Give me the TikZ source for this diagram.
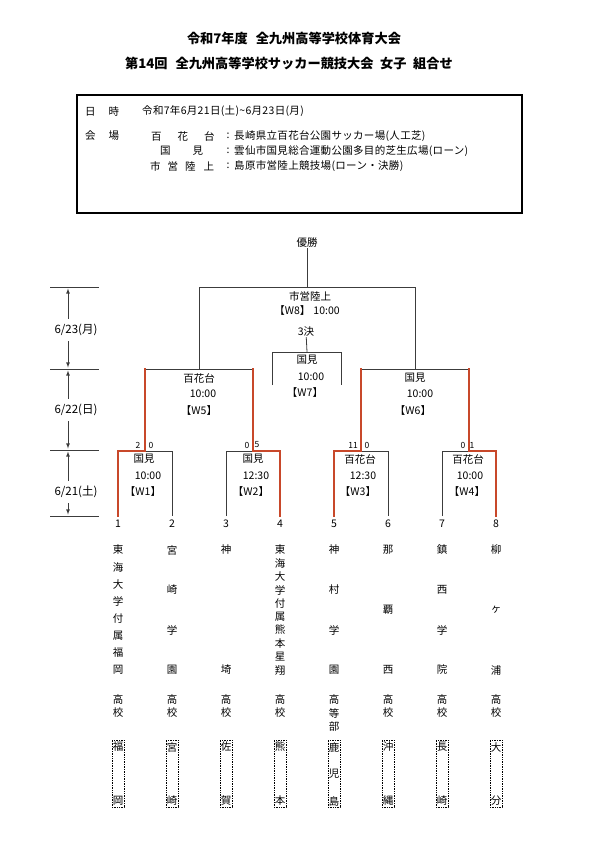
\documentclass[tikz,border=0pt]{standalone}
\usepackage{fontspec}
\setmainfont{Noto Sans CJK JP}
\definecolor{winred}{RGB}{200,72,42}
\definecolor{linegray}{RGB}{60,60,60}
\begin{document}
\begin{tikzpicture}%
	[x=1pt, y=-1pt,
	line/.style={draw=linegray, line width=0.8pt},
	win/.style={draw=winred, line width=1.6pt, line cap=rect},
	txt/.style={inner sep=0pt, font=\fontsize{10.5}{12}\selectfont},
	info/.style={inner sep=0pt, font=\fontsize{10.5}{12}\selectfont\addfontfeature{LetterSpace=3}},
	datelabel/.style={inner sep=0pt, font=\fontsize{11.5}{13}\selectfont},
	small/.style={inner sep=0pt, font=\fontsize{8.5}{10}\selectfont},
	title/.style={inner sep=0pt, font=\fontsize{13.2}{15}\selectfont\bfseries},
	datearrow/.style={draw=linegray, line width=0.8pt, -latex, shorten <=5pt, shorten >=1.5pt},
	infobox/.style={draw=black, line width=1.5pt, minimum width=445pt, minimum height=118pt},
	prefbox/.style={draw=black, densely dotted, line width=0.7pt, minimum width=12pt, minimum height=67pt, inner sep=0pt}]
	%
	\useasboundingbox (0,0) rectangle (595,841);
	%
	%% Titles
	%%
	\node[title] (title1) at (294,38) {令和7年度\hspace{0.6em}全九州高等学校体育大会};
	\node[title] (title2) at (289,63) {第14回\hspace{0.6em}全九州高等学校サッカー競技大会\hspace{0.5em}女子\hspace{0.5em}組合せ};
	%%
	%% Information box
	%%
	\node[infobox] (info) at (299.5,154) {};
	\node[txt, anchor=west] (when) at (85,111) {日\hspace{13pt}時};
	\node[info, anchor=west] (whendate) at (142,111) {令和7年6月21日(土)\textasciitilde 6月23日(月)};
	\node[txt, anchor=west] (where) at (85,136) {会\hspace{13pt}場};
	\node[txt, anchor=west] (site1) at (151,136) {百\hspace{16pt}花\hspace{16pt}台};
	\node[txt] (colon1) at (228,136) {:};
	\node[info, anchor=west] (place1) at (234,136) {長崎県立百花台公園サッカー場(人工芝)};
	\node[txt, anchor=west] (site2) at (160,151) {国\hspace{22pt}見};
	\node[txt] (colon2) at (228,151) {:};
	\node[info, anchor=west] (place2) at (234,151) {雲仙市国見総合運動公園多目的芝生広場(ローン)};
	\node[txt, anchor=west] (site3) at (150,166) {市\hspace{7pt}営\hspace{7pt}陸\hspace{8pt}上};
	\node[txt] (colon3) at (228,166) {:};
	\node[info, anchor=west] (place3) at (234,166) {島原市営陸上競技場(ローン・決勝)};
	%%
	%% Coordinates of the bracket
	%%
	\foreach \i in {1,...,8} {
		\coordinate (t\i) at ({118+54*(\i-1)},516);
		\coordinate (h\i) at ({118+54*(\i-1)},451);
	}
	\coordinate (m1) at (145,451);
	\coordinate (m2) at (253,451);
	\coordinate (m3) at (361,451);
	\coordinate (m4) at (469,451);
	\coordinate (n1) at (145,369);
	\coordinate (n2) at (253,369);
	\coordinate (n3) at (361,369);
	\coordinate (n4) at (469,369);
	\coordinate (s1) at (199,369);
	\coordinate (s2) at (415,369);
	\coordinate (f1) at (199,287);
	\coordinate (f2) at (415,287);
	\coordinate (fm) at (307,287);
	\coordinate (w7m) at (307,352);
	\coordinate (w7l) at (272,352);
	\coordinate (w7r) at (341,352);
	\coordinate (w7lb) at (272,385);
	\coordinate (w7rb) at (341,385);
	%%
	%% Final and third place
	%%
	\node[txt] (champ) at (307,243) {優勝};
	\node[txt] (w8site) at (310,296) {市営陸上};
	\node[txt] (w8time) at (307,311) {【W8】\hspace{0.3em}10:00};
	\node[txt] (third) at (306,332) {3決};
	\node[txt] (w7site) at (307,360) {国見};
	\node[txt] (w7time) at (311,377) {10:00};
	\node[txt] (w7name) at (305,393) {【W7】};
	%%
	%% Drawing lines in gray
	%%
	\draw[line] (champ) -- (fm);
	\draw[line] (s1) -- (f1) -- (f2) -- (s2);
	\draw[line] (third) -- (w7m);
	\draw[line] (w7lb) -- (w7l) -- (w7r) -- (w7rb);
	\draw[line] (n1) -- (n2);
	\draw[line] (n3) -- (n4);
	\draw[line] (m1) -- (h2) -- (t2);
	\draw[line] (t3) -- (h3) -- (m2);
	\draw[line] (m3) -- (h6) -- (t6);
	\draw[line] (t7) -- (h7) -- (m4);
	%%
	%% Drawing winners in red
	%%
	\draw[win] (t1) -- (h1) -- (m1) -- (n1);
	\draw[win] (t4) -- (h4) -- (m2) -- (n2);
	\draw[win] (t5) -- (h5) -- (m3) -- (n3);
	\draw[win] (t8) -- (h8) -- (m4) -- (n4);
	%%
	%% Semi finals
	%%
	\node[txt] (w5site) at (199,378) {百花台};
	\node[txt] (w5time) at (203,394) {10:00};
	\node[txt] (w5name) at (199,411) {【W5】};
	\node[txt] (w6site) at (415,378) {国見};
	\node[txt] (w6time) at (420,394) {10:00};
	\node[txt] (w6name) at (413,411) {【W6】};
	%%
	%% First round
	%%
	\node[txt] (w1site) at (144,459) {国見};
	\node[txt] (w1time) at (148,476) {10:00};
	\node[txt] (w1name) at (143,492) {【W1】};
	\node[txt] (w2site) at (253,459) {国見};
	\node[txt] (w2time) at (256,476) {12:30};
	\node[txt] (w2name) at (251,492) {【W2】};
	\node[txt] (w3site) at (360,459) {百花台};
	\node[txt] (w3time) at (363,476) {12:30};
	\node[txt] (w3name) at (358,492) {【W3】};
	\node[txt] (w4site) at (468,459) {百花台};
	\node[txt] (w4time) at (470,476) {10:00};
	\node[txt] (w4name) at (467,492) {【W4】};
	%% scores
	\node[small] (sc1a) at (138,445) {2};
	\node[small] (sc1b) at (151,445) {0};
	\node[small] (sc2a) at (247,445) {0};
	\node[small] (sc2b) at (257,445) {5};
	\node[small] (sc3a) at (353,445) {11};
	\node[small] (sc3b) at (367,445) {0};
	\node[small] (sc4a) at (463,445) {0};
	\node[small] (sc4b) at (472,445) {1};
	%%
	%% Dates
	%%
	\foreach \k/\y in {0/287, 1/369, 2/450, 3/516} {
		\coordinate (dl\k) at (50,\y);
		\coordinate (dr\k) at (99,\y);
		\coordinate (a\k) at (68,\y);
		\draw[line] (dl\k) -- (dr\k);
	}
	\node[datelabel] (d623) at (76,330) {6/23(月)};
	\node[datelabel] (d622) at (76,410) {6/22(日)};
	\node[datelabel] (d621) at (76,492) {6/21(土)};
	\draw[datearrow] (a0 |- d623.north) -- (a0);
	\draw[datearrow] (a0 |- d623.south) -- (a1);
	\draw[datearrow] (a1 |- d622.north) -- (a1);
	\draw[datearrow] (a1 |- d622.south) -- (a2);
	\draw[datearrow] (a2 |- d621.north) -- (a2);
	\draw[datearrow] (a2 |- d621.south) -- (a3);
	%%
	%% Teams
	%%
	\foreach \i in {1,...,8} {
		\node[txt] (num\i) at ({118+54*(\i-1)},524) {\i};
	}
	\foreach \x/\n/\chars [count=\i] in {118/8/{東,海,大,学,付,属,福,岡}, 172/4/{宮,崎,学,園}, 226/2/{神,埼}, 280/10/{東,海,大,学,付,属,熊,本,星,翔}, 334/4/{神,村,学,園}, 388/3/{那,覇,西}, 442/4/{鎮,西,学,院}, 496/3/{柳,ヶ,浦}} {
		\foreach \c [count=\k] in \chars {
			\node[txt] (team\i-\k) at (\x,{550+(\k-1)*120/(\n-1)}) {\c};
		}
	}
	\foreach \x/\chars [count=\i] in {118/{高,校}, 172/{高,校}, 226/{高,校}, 280/{高,校}, 334/{高,等,部}, 388/{高,校}, 442/{高,校}, 496/{高,校}} {
		\foreach \c [count=\k] in \chars {
			\node[txt] (kind\i-\k) at (\x,{699+(\k-1)*14}) {\c};
		}
	}
	%%
	%% Prefectures
	%%
	\foreach \x/\top/\bot [count=\i] in {118/福/岡, 172/宮/崎, 226/佐/賀, 280/熊/本, 334/鹿/島, 388/沖/縄, 442/長/崎, 496/大/分} {
		\node[prefbox] (pref\i) at (\x,773.5) {};
		\node[txt] (pref\i-top) at (\x,747) {\top};
		\node[txt] (pref\i-bot) at (\x,801) {\bot};
	}
	\node[txt] (pref5-mid) at (334,774) {児};
	%%
\end{tikzpicture}
\end{document}
